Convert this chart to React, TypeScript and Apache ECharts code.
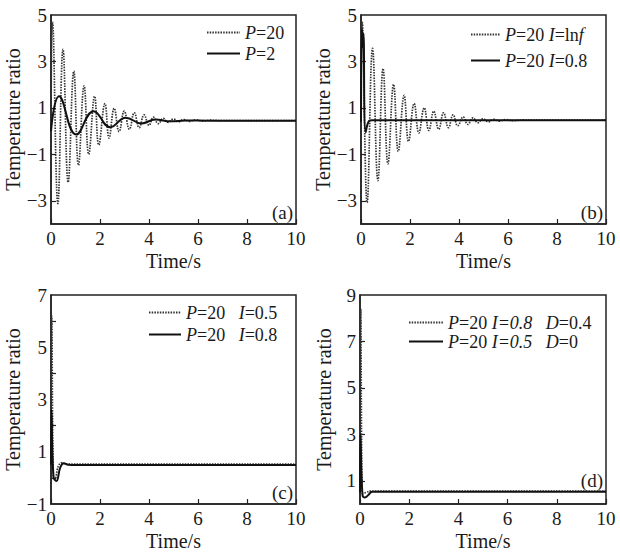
import React, { useEffect, useRef } from "react";
import * as echarts from "echarts";

const FONT = '"Liberation Serif", "Times New Roman", serif';

// x axis
const timeLabels = [0, 2, 4, 6, 8, 10];

// y axis labels and ticks per panel
const yLabelsA = [-3, -1, 1, 3, 5];
const yTicksA = [-3, -1, 1, 3];
const yLabelsB = [-3, -1, 1, 3, 5];
const yTicksB = [-3, -1, 1, 3];
const yLabelsC = [-1, 1, 3, 5, 7];
const yTicksC = [0, 2, 4, 6];
const yLabelsD = [1, 3, 5, 7, 9];
const yTicksD = [1, 3, 5, 7];

// (a) P=20 (dotted), P=2 (solid)
const aP20: number[][] = [
  [0, 0.4], [0.06, 4.7], [0.28, -3.12], [0.49, 3.52], [0.7, -2.2], [0.93, 2.58],
  [1.12, -1.47], [1.35, 1.95], [1.54, -1.0], [1.78, 1.5], [1.95, -0.6], [2.2, 1.18],
  [2.37, -0.3], [2.58, 0.98], [2.78, -0.02], [2.99, 0.86], [3.2, 0.08], [3.4, 0.79],
  [3.6, 0.15], [3.8, 0.7], [4.0, 0.25], [4.18, 0.6], [4.38, 0.32], [4.58, 0.55],
  [4.78, 0.38], [5.0, 0.52], [5.2, 0.4], [5.42, 0.5], [5.65, 0.42], [5.9, 0.49],
  [6.2, 0.43], [6.5, 0.47], [7.0, 0.45], [10, 0.45],
];
const aP2: number[][] = [
  [0, 0.0], [0.33, 1.5], [1.03, -0.15], [1.74, 0.86], [2.42, 0.17], [3.05, 0.58],
  [3.7, 0.33], [4.25, 0.5], [4.9, 0.42], [5.5, 0.46], [6.5, 0.45], [10, 0.45],
];

// (b) P=20 I=Inf (dotted), P=20 I=0.8 (solid)
const bInf: number[][] = [
  [0, 0.4], [0.05, 4.7], [0.25, -3.08], [0.47, 3.56], [0.69, -2.13], [0.9, 2.69],
  [1.1, -1.41], [1.33, 2.01], [1.52, -0.87], [1.76, 1.54], [1.94, -0.44], [2.17, 1.19],
  [2.36, -0.08], [2.58, 1.0], [2.77, 0.03], [2.97, 0.86], [3.17, 0.08], [3.37, 0.79],
  [3.57, 0.15], [3.76, 0.7], [3.95, 0.23], [4.17, 0.61], [4.36, 0.29], [4.57, 0.57],
  [4.77, 0.36], [4.98, 0.53], [5.2, 0.4], [5.42, 0.51], [5.65, 0.43], [5.9, 0.5],
  [6.2, 0.45], [6.6, 0.48], [7.2, 0.47], [10, 0.47],
];
const bI08: number[][] = [
  [0, 0.4], [0.04, 4.4], [0.08, 3.6], [0.1, 4.2], [0.19, -0.05], [0.33, 0.44],
  [0.45, 0.47], [10, 0.47],
];

// (c) P=20 I=0.5 (dotted), P=20 I=0.8 (solid)
const cI05: number[][] = [
  [0, 0.5], [0.03, 6.2], [0.1, 0.0], [0.16, -0.02], [0.3, 0.45], [0.45, 0.58],
  [0.6, 0.53], [10, 0.53],
];
const cI08: number[][] = [
  [0, 0.5], [0.02, 2.6], [0.1, 0.05], [0.22, -0.12], [0.38, 0.4], [0.52, 0.56],
  [0.7, 0.5], [1.0, 0.49], [10, 0.49],
];

// (d) P=20 I=0.8 D=0.4 (dotted), P=20 I=0.5 D=0 (solid)
const dD04: number[][] = [
  [0, 0.5], [0.03, 8.4], [0.08, 0.9], [0.12, 0.45], [0.25, 0.5], [0.45, 0.56],
  [10, 0.56],
];
const dD0: number[][] = [
  [0, 0.5], [0.02, 3.0], [0.1, 0.4], [0.2, 0.28], [0.35, 0.4], [0.5, 0.53],
  [10, 0.53],
];

const panels = [
  {
    grid: { left: 51, top: 15, width: 245, height: 209 },
    yMin: -4, yMax: 5, yLabels: yLabelsA, yTicks: yTicksA,
    tag: "(a)", tagPos: [293, 212],
    legend: { left: 206, top: 23, gap: 2, itemWidth: 33 },
    series: [
      { name: "P=20", data: aP20, dotted: true, label: "{i|P}=20" },
      { name: "P=2", data: aP2, dotted: false, label: "{i|P}=2" },
    ],
  },
  {
    grid: { left: 361, top: 15, width: 245, height: 209 },
    yMin: -4, yMax: 5, yLabels: yLabelsB, yTicks: yTicksB,
    tag: "(b)", tagPos: [603, 212],
    legend: { left: 470, top: 25, gap: 7, itemWidth: 29 },
    series: [
      { name: "P=20 I=Inf", data: bInf, dotted: true, label: "{i|P}=20 {i|I}=ln{i|f}" },
      { name: "P=20 I=0.8 (b)", data: bI08, dotted: false, label: "{i|P}=20 {i|I}=0.8" },
    ],
  },
  {
    grid: { left: 51, top: 295, width: 245, height: 209 },
    yMin: -1, yMax: 7, yLabels: yLabelsC, yTicks: yTicksC,
    tag: "(c)", tagPos: [293, 492],
    legend: { left: 148, top: 303, gap: 3, itemWidth: 32 },
    series: [
      { name: "P=20 I=0.5", data: cI05, dotted: true, label: "{i|P}=20   {i|I}=0.5" },
      { name: "P=20 I=0.8 (c)", data: cI08, dotted: false, label: "{i|P}=20   {i|I}=0.8" },
    ],
  },
  {
    grid: { left: 360, top: 295, width: 246, height: 209 },
    yMin: 0, yMax: 9, yLabels: yLabelsD, yTicks: yTicksD,
    tag: "(d)", tagPos: [603, 480],
    legend: { left: 408, top: 313, gap: 0, itemWidth: 34 },
    series: [
      { name: "P=20 I=0.8 D=0.4", data: dD04, dotted: true, label: "{i|P}=20 {i|I=0.8}   {i|D}=0.4" },
      { name: "P=20 I=0.5 D=0", data: dD0, dotted: false, label: "{i|P}=20 {i|I=0.5}   {i|D}=0" },
    ],
  },
];

const TEXT = "#1a1a1a";

export default function App() {
  const ref = useRef<HTMLDivElement>(null);
  useEffect(() => {
    if (!ref.current) return;
    const chart = echarts.init(ref.current, undefined, { renderer: "svg" });
    const labelMap: Record<string, string> = {};
    panels.forEach((p) => p.series.forEach((s) => (labelMap[s.name] = s.label)));

    const option: any = {
      animation: false,
      backgroundColor: "#ffffff",
      textStyle: { fontFamily: FONT, color: TEXT },
      grid: panels.map((p) => ({
        ...p.grid,
        show: true,
        borderColor: "#222",
        borderWidth: 1.5,
        backgroundColor: "transparent",
      })),
      xAxis: panels.map((p, i) => ({
        type: "value",
        gridIndex: i,
        min: 0,
        max: 10,
        interval: 2,
        name: "Time/s",
        nameLocation: "middle",
        nameGap: 27,
        nameTextStyle: { fontFamily: FONT, fontSize: 20, color: TEXT },
        axisLine: { show: true, onZero: false, lineStyle: { color: "#222", width: 1.5 } },
        axisTick: { show: true, inside: true, length: 5, lineStyle: { color: "#222", width: 1.2 } },
        axisLabel: {
          fontFamily: FONT, fontSize: 19, color: TEXT, margin: 5,
          customValues: timeLabels,
          showMaxLabel: true,
        },
        splitLine: { show: false },
      })),
      yAxis: panels.map((p, i) => ({
        type: "value",
        gridIndex: i,
        min: p.yMin,
        max: p.yMax,
        interval: 1,
        name: "Temperature ratio",
        nameLocation: "middle",
        nameGap: 26,
        nameRotate: 90,
        nameTextStyle: { fontFamily: FONT, fontSize: 20, color: TEXT },
        axisLine: { show: true, onZero: false, lineStyle: { color: "#222", width: 1.5 } },
        axisTick: {
          show: true, inside: true, length: 5,
          lineStyle: { color: "#222", width: 1.2 },
          customValues: p.yTicks,
        },
        axisLabel: {
          fontFamily: FONT, fontSize: 19, color: TEXT, margin: 4,
          customValues: p.yLabels,
          formatter: (v: number) => (v < 0 ? "\u2212" + Math.abs(v) : String(v)),
        },
        splitLine: { show: false },
      })),
      legend: panels.map((p) => ({
        left: p.legend.left,
        top: p.legend.top,
        orient: "vertical",
        padding: 0,
        itemGap: p.legend.gap,
        itemWidth: p.legend.itemWidth,
        itemHeight: 14,
        selectedMode: false,
        data: p.series.map((s) => s.name),
        formatter: (name: string) => labelMap[name] || name,
        itemStyle: { opacity: 0 },
        textStyle: {
          fontFamily: FONT,
          fontSize: 18,
          color: TEXT,
          lineHeight: 19,
          rich: {
            i: { fontFamily: FONT, fontSize: 18, fontStyle: "italic", color: TEXT, lineHeight: 19 },
          },
        },
      })),
      graphic: panels.map((p) => ({
        type: "text",
        x: p.tagPos[0],
        y: p.tagPos[1],
        style: {
          text: p.tag,
          fontFamily: FONT,
          fontSize: 19,
          fill: TEXT,
          align: "right",
          verticalAlign: "middle",
        },
      })),
      series: panels.flatMap((p, i) =>
        p.series.map((s) => ({
          type: "line",
          name: s.name,
          xAxisIndex: i,
          yAxisIndex: i,
          data: s.data,
          symbol: "none",
          smooth: 0.45,
          clip: true,
          lineStyle: s.dotted
            ? { type: [1.5, 1.2], width: 1.7, color: "#333" }
            : { type: "solid", width: 2, color: "#111" },
          itemStyle: { color: s.dotted ? "#333" : "#111" },
          z: s.dotted ? 2 : 3,
        }))
      ),
    };
    chart.setOption(option);
    return () => chart.dispose();
  }, []);
  return (
    <div
      ref={ref}
      style={{ position: "absolute", left: 0, top: 0, width: 620, height: 553 }}
    />
  );
}
